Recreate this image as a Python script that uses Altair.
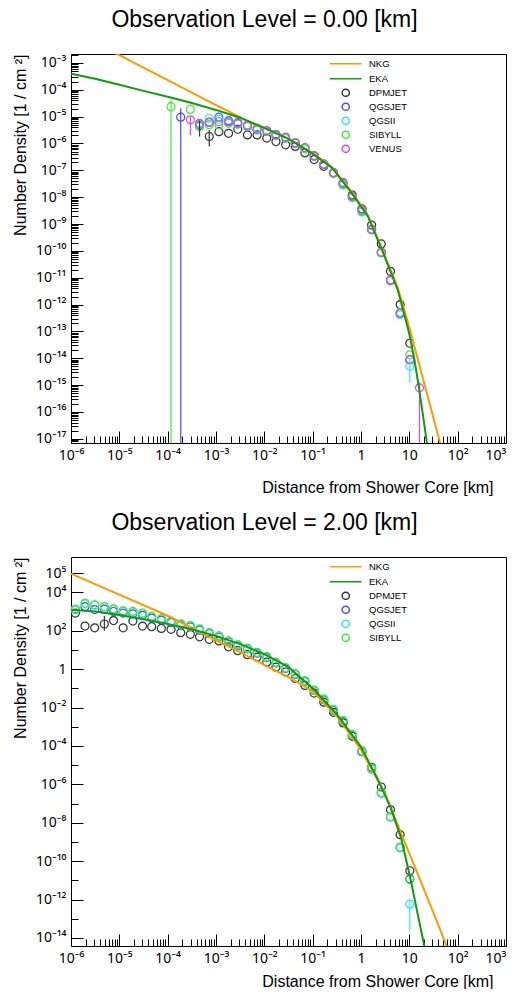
import altair as alt
import pandas as pd

FONT = "Liberation Sans"
TICK_FONT = "Noto Sans"

# ---------------- axis ticks / labels ----------------
X_MAJOR = [1e-6, 1e-5, 1e-4, 1e-3, 1e-2, 1e-1, 1, 10, 100, 1000]
X_LABELS = ["10⁻⁶", "10⁻⁵", "10⁻⁴", "10⁻³", "10⁻²", "10⁻¹", "1", "10", "10²", "10³"]
X_MINOR = [m * d for d in X_MAJOR[:-1] for m in range(2, 10)]

TOP_Y_DOMAIN = [7e-18, 2.15e-3]
TOP_Y_MAJOR = [10.0 ** e for e in range(-17, -2)]
TOP_Y_LABELS = ["10⁻¹⁷", "10⁻¹⁶", "10⁻¹⁵", "10⁻¹⁴", "10⁻¹³", "10⁻¹²", "10⁻¹¹", "10⁻¹⁰",
                "10⁻⁹", "10⁻⁸", "10⁻⁷", "10⁻⁶", "10⁻⁵", "10⁻⁴", "10⁻³"]
TOP_Y_MINOR = [m * 10.0 ** e for e in range(-18, -2) for m in range(2, 10)
               if TOP_Y_DOMAIN[0] <= m * 10.0 ** e <= TOP_Y_DOMAIN[1]]

BOT_Y_DOMAIN = [3.8e-15, 6.9e5]
BOT_Y_MAJOR = [1e-14, 1e-12, 1e-10, 1e-8, 1e-6, 1e-4, 1e-2, 1, 1e2, 1e4, 1e5]
BOT_Y_LABELS = ["10⁻¹⁴", "", "10⁻¹²", "", "10⁻¹⁰", "", "10⁻⁸", "", "10⁻⁶", "", "10⁻⁴", "",
                "10⁻²", "", "1", "", "10²", "", "10⁴", "10⁵"]
BOT_Y_MINOR = [10.0 ** e for e in range(-13, 4, 2)]

# ---------------- data: Observation level 0.00 km ----------------
TOP_NKG_LOGR = [-6.0, -5.0, -4.0, -3.0, -2.5, -2.3, -2.0, -1.5, -1.0, -0.6, -0.2, 0.14, 0.48,
                0.76, 0.9, 1.0, 1.2, 1.4, 1.63, 1.75]
TOP_NKG_LOGV = [-1.78, -2.71, -3.64, -4.57, -5.02, -5.22, -5.42, -5.83, -6.36, -6.88, -7.78,
                -8.66, -10.12, -11.38, -12.22, -12.85, -14.2, -15.55, -17.11, -17.9]
TOP_EKA_LOGR = [-6.0, -5.5, -5.0, -4.5, -4.0, -3.5, -3.0, -2.5, -2.0, -1.5, -1.0, -0.6, -0.2,
                0.14, 0.48, 0.76, 0.9, 1.0, 1.1, 1.2, 1.3, 1.4]
TOP_EKA_LOGV = [-3.40, -3.59, -3.81, -4.04, -4.26, -4.49, -4.75, -5.04, -5.42, -5.83, -6.38,
                -6.90, -7.83, -8.70, -10.17, -11.45, -12.4, -13.1, -14.0, -15.1, -16.35, -17.6]

TOP_BIN_LOGR = [-3.93, -3.73, -3.53, -3.34, -3.14, -2.94, -2.74, -2.55, -2.35, -2.15, -1.95,
                -1.76, -1.56, -1.36, -1.16, -0.97, -0.77, -0.57, -0.37, -0.18, 0.02, 0.22,
                0.42, 0.61, 0.81, 1.01, 1.21]
TOP_DPMJET = [None, None, None, -5.35, -5.74, -5.56, -5.62, -5.47, -5.68, -5.68, -5.80, -5.93,
              -6.05, -6.11, -6.35, -6.60, -6.85, -7.09, -7.50, -7.92, -8.43, -9.04, -9.74,
              -10.76, -12.0, -13.44, None]
TOP_QGSJET = [None, -5.02, None, -5.30, -5.20, -5.02, -5.15, -5.22, -5.32, -5.45, -5.55, -5.66,
              -5.80, -5.97, -6.17, -6.45, -6.76, -7.08, -7.50, -7.98, -8.50, -9.21, -10.05,
              -11.08, -12.30, -14.05, None]
TOP_QGSII = [None, None, None, -5.28, -5.06, -5.10, -5.20, -5.24, -5.33, -5.44, -5.53, -5.67,
             -5.78, -5.98, -6.18, -6.47, -6.77, -7.10, -7.52, -8.00, -8.52, -9.22, -10.08,
             -11.12, -12.38, -14.30, None]
TOP_SIBYLL = [-4.63, None, -4.73, -5.35, -5.30, -5.30, -5.25, -5.28, -5.37, -5.50, -5.55, -5.70,
              -5.80, -6.00, -6.20, -6.48, -6.80, -7.12, -7.55, -8.02, -8.55, -9.21, -10.05,
              -11.10, -12.30, -13.87, None]
TOP_VENUS = [None, None, -5.12, -5.25, -5.22, -5.19, -5.19, -5.25, -5.35, -5.47, -5.52, -5.68,
             -5.76, -5.99, -6.15, -6.47, -6.78, -7.09, -7.45, -7.96, -8.45, -9.19, -10.05,
             -11.10, -12.33, -14.05, -15.10]
# error bars: series, log r, log low, log high
TOP_ERRORS = [("SIBYLL", -3.93, -30.0, -4.36), ("QGSJET", -3.73, -30.0, -4.69),
              ("VENUS", -3.53, -5.68, -5.0), ("DPMJET", -3.34, -5.74, -5.15),
              ("DPMJET", -3.14, -6.11, -5.5), ("QGSII", 1.01, -14.9, -14.05),
              ("VENUS", 1.21, -30.0, -14.9)]

# ---------------- data: Observation level 2.00 km ----------------
BOT_NKG_LOGR = [-6.0, -5.0, -4.0, -3.5, -3.0, -2.5, -2.0, -1.5, -1.0, -0.5, 0.0, 0.5, 1.0, 1.5, 1.8]
BOT_NKG_LOGV = [4.97, 3.88, 2.78, 2.15, 1.50, 0.88, 0.22, -0.42, -1.15, -2.45, -4.20, -6.50,
                -9.60, -12.70, -14.60]
BOT_EKA_LOGR = [-6.0, -5.5, -5.0, -4.5, -4.0, -3.5, -3.0, -2.5, -2.0, -1.5, -1.0, -0.5, 0.0,
                0.35, 0.62, 0.83, 1.03, 1.17, 1.29, 1.35]
BOT_EKA_LOGV = [3.09, 3.00, 2.82, 2.60, 2.35, 2.08, 1.73, 1.30, 0.78, 0.10, -1.00, -2.35, -4.05,
                -5.75, -7.25, -8.80, -11.00, -12.72, -14.17, -15.0]

BOT_BIN_LOGR = [-5.91, -5.71, -5.51, -5.31, -5.12, -4.92, -4.72, -4.52, -4.33, -4.13, -3.93,
                -3.73, -3.53, -3.34, -3.14, -2.94, -2.74, -2.55, -2.35, -2.15, -1.95, -1.76,
                -1.56, -1.36, -1.16, -0.97, -0.77, -0.57, -0.37, -0.18, 0.02, 0.22, 0.42, 0.61,
                0.81, 1.01]
BOT_DPMJET = [2.92, 2.24, 2.15, 2.35, 2.53, 2.15, 2.50, 2.24, 2.21, 2.12, 2.07, 1.90, 1.81, 1.68,
              1.55, 1.47, 1.16, 0.96, 0.75, 0.62, 0.36, 0.10, -0.15, -0.49, -0.85, -1.25, -1.72,
              -2.25, -2.80, -3.50, -4.30, -5.11, -6.14, -7.33, -8.62, -10.50]
BOT_QGSJET = [3.10, 3.25, 3.10, 3.12, 3.00, 2.92, 2.88, 2.80, 2.66, 2.55, 2.42, 2.30, 2.20, 2.03,
              1.85, 1.68, 1.42, 1.22, 1.05, 0.83, 0.60, 0.32, 0.03, -0.28, -0.65, -1.12, -1.60,
              -2.15, -2.72, -3.45, -4.30, -5.20, -6.45, -7.70, -9.30, -10.92]
BOT_QGSII = [3.12, 3.40, 3.33, 3.24, 3.12, 3.02, 2.98, 2.90, 2.74, 2.62, 2.48, 2.35, 2.25, 2.08,
             1.89, 1.72, 1.46, 1.26, 1.08, 0.86, 0.63, 0.35, 0.06, -0.25, -0.62, -1.10, -1.57,
             -2.12, -2.70, -3.42, -4.28, -5.18, -6.45, -7.70, -9.30, -12.24]
BOT_SIBYLL = [3.10, 3.44, 3.35, 3.26, 3.14, 3.04, 3.01, 2.92, 2.75, 2.63, 2.50, 2.36, 2.27, 2.10,
              1.90, 1.73, 1.47, 1.27, 1.09, 0.87, 0.65, 0.36, 0.07, -0.24, -0.60, -1.09, -1.55,
              -2.10, -2.68, -3.40, -4.26, -5.16, -6.43, -7.68, -9.27, -10.97]
BOT_ERRORS = [("DPMJET", -5.31, 2.0, 2.77), ("QGSII", 1.01, -13.6, -12.0)]

# ---------------- styles ----------------
# horizontal line symbol; the two zero-length segments only give it the circle's height
LINE_SYMBOL = "M-4.4,0H4.4M0,-1.1L0,-1.1M0,1.1L0,1.1"
STYLE = {
    "NKG": ("#ff9900", LINE_SYMBOL),
    "EKA": ("#109a10", LINE_SYMBOL),
    "DPMJET": ("#333333", "circle"),
    "QGSJET": ("#4a4aff", "circle"),
    "QGSII": ("#2ee8f2", "circle"),
    "SIBYLL": ("#3aee3a", "circle"),
    "VENUS": ("#cc4cf0", "circle"),
}


def curve_frame(parts):
    rows = []
    for name, lr, lv in parts:
        for a, b in zip(lr, lv):
            rows.append({"r": 10.0 ** a, "v": 10.0 ** b, "series": name})
    return pd.DataFrame(rows)


def point_frame(bins, parts):
    rows = []
    for name, vals in parts:
        for a, b in zip(bins, vals):
            if b is not None:
                rows.append({"r": 10.0 ** a, "v": 10.0 ** b, "series": name})
    return pd.DataFrame(rows)


def error_frame(errs):
    return pd.DataFrame([{"series": s, "r": 10.0 ** a, "lo": 10.0 ** lo, "hi": 10.0 ** hi}
                         for s, a, lo, hi in errs])


def label_expr(labels, shift):
    arr = "[" + ",".join("'" + l + "'" for l in labels) + "]"
    return f"{arr}[round(log(datum.value)/LN10)+{shift}]"


def panel(title, series, curves, points, errors, ydomain, ymajor, ylabels, yshift, yminor,
          xtitle_y):
    cscale = alt.Scale(domain=series, range=[STYLE[s][0] for s in series])
    sscale = alt.Scale(domain=series, range=[STYLE[s][1] for s in series])
    xs = alt.Scale(type="log", domain=[1e-6, 1e3], nice=False)
    ys = alt.Scale(type="log", domain=ydomain, nice=False)
    leg = alt.Legend(title=None, orient="none", legendX=270, legendY=5, labelFont=FONT,
                     labelFontSize=9.5, labelColor="black", symbolSize=52,
                     symbolStrokeWidth=1.5, rowPadding=0, labelOffset=18.5, padding=0)
    x_major = alt.Axis(values=X_MAJOR, labelExpr=label_expr(X_LABELS, 6), tickSize=12,
                       offset=-12, orient="bottom", labelPadding=5,
                       labelAlign={"condition": {"test": "datum.value >= 999", "value": "right"},
                                   "value": "center"},
                       title="Distance from Shower Core [km]", titleX=422, titleY=xtitle_y,
                       titleAlign="right", titleBaseline="alphabetic")
    x_minor = alt.Axis(values=X_MINOR, labels=False, tickSize=7, offset=-7,
                       orient="bottom", title=None)
    y_major = alt.Axis(values=ymajor, labelExpr=label_expr(ylabels, yshift), tickSize=12,
                       offset=-12, orient="left", labelPadding=5,
                       title="Number Density [1 / cm ²]", titleX=-57.5, titleY=0,
                       titleAlign="right", titleAngle=270, titleBaseline="alphabetic")
    y_minor = alt.Axis(values=yminor, labels=False, tickSize=7, offset=-7,
                       orient="left", title=None)

    pts = alt.Chart(points).mark_point(filled=False, size=64, strokeWidth=1.2, clip=True,
                                       opacity=1).encode(
        x=alt.X("r:Q", scale=xs, axis=x_minor),
        y=alt.Y("v:Q", scale=ys, axis=y_minor),
        color=alt.Color("series:N", scale=cscale, legend=leg),
        shape=alt.Shape("series:N", scale=sscale, legend=leg),
    )
    errs = alt.Chart(errors).mark_rule(strokeWidth=1.2, clip=True).encode(
        x=alt.X("r:Q", scale=xs, axis=None),
        y=alt.Y("lo:Q", scale=ys, axis=None),
        y2="hi:Q",
        color=alt.Color("series:N", scale=cscale, legend=None),
    )
    lines = alt.Chart(curves).mark_line(strokeWidth=2, clip=True).encode(
        x=alt.X("r:Q", scale=xs, axis=x_major),
        y=alt.Y("v:Q", scale=ys, axis=y_major),
        color=alt.Color("series:N", scale=cscale, legend=None),
    )
    return (alt.layer(pts, errs, lines)
            .resolve_axis(x="independent", y="independent")
            .properties(width=435, height=389, title=alt.TitleParams(title, dx=-24)))


top = panel(
    "Observation Level = 0.00 [km]",
    ["NKG", "EKA", "DPMJET", "QGSJET", "QGSII", "SIBYLL", "VENUS"],
    curve_frame([("NKG", TOP_NKG_LOGR, TOP_NKG_LOGV), ("EKA", TOP_EKA_LOGR, TOP_EKA_LOGV)]),
    point_frame(TOP_BIN_LOGR, [("DPMJET", TOP_DPMJET), ("QGSJET", TOP_QGSJET),
                               ("QGSII", TOP_QGSII), ("SIBYLL", TOP_SIBYLL),
                               ("VENUS", TOP_VENUS)]),
    error_frame(TOP_ERRORS),
    TOP_Y_DOMAIN, TOP_Y_MAJOR, TOP_Y_LABELS, 17, TOP_Y_MINOR, 61,
)
bottom = panel(
    "Observation Level = 2.00 [km]",
    ["NKG", "EKA", "DPMJET", "QGSJET", "QGSII", "SIBYLL"],
    curve_frame([("NKG", BOT_NKG_LOGR, BOT_NKG_LOGV), ("EKA", BOT_EKA_LOGR, BOT_EKA_LOGV)]),
    point_frame(BOT_BIN_LOGR, [("DPMJET", BOT_DPMJET), ("QGSJET", BOT_QGSJET),
                               ("QGSII", BOT_QGSII), ("SIBYLL", BOT_SIBYLL)]),
    error_frame(BOT_ERRORS),
    BOT_Y_DOMAIN, BOT_Y_MAJOR, BOT_Y_LABELS, 14, BOT_Y_MINOR, 52,
)

chart = (
    alt.vconcat(top, bottom, spacing=15)
    .resolve_scale(color="independent", shape="independent")
    .configure(padding={"left": 4, "top": 0, "right": 0, "bottom": -1.5}, font=FONT)
    .configure_view(stroke="black", strokeWidth=1)
    .configure_axis(labelFont=TICK_FONT, titleFont=FONT, labelFontSize=14, titleFontSize=16,
                    labelColor="black", titleColor="black", tickColor="black", tickWidth=1,
                    domain=False, grid=False, labelFlush=False, labelOverlap=False,
                    titleFontWeight="normal")
    .configure_title(font=FONT, fontSize=23, fontWeight="normal", color="black",
                     anchor="middle", offset=22)
)

chart.save("out.html", embed_options={"renderer": "svg", "actions": False})
